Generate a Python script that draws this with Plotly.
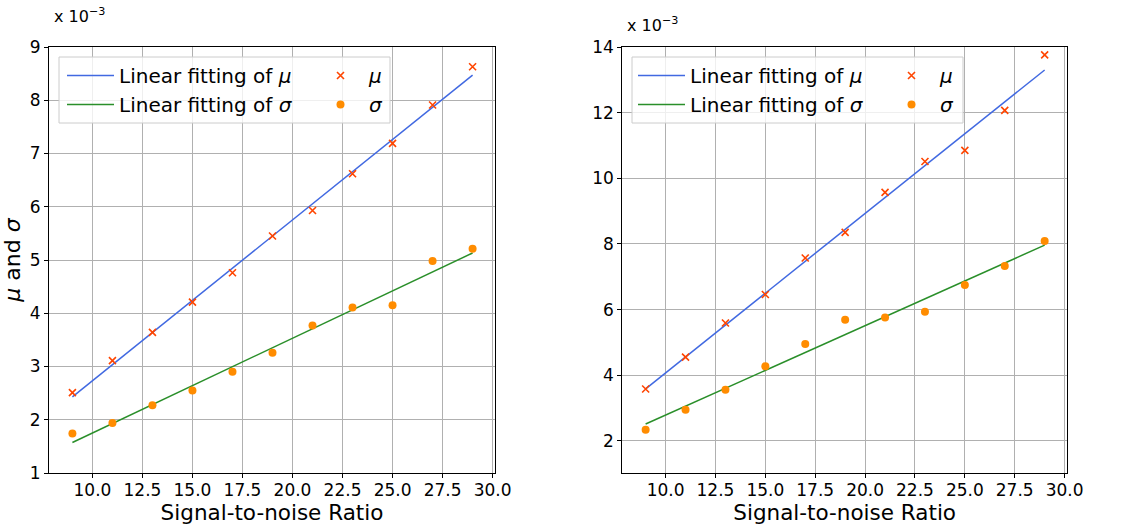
import numpy as np
import plotly.graph_objects as go
from plotly.subplots import make_subplots

# ---- data (values in units of 1e-3) ----
snr = [9, 11, 13, 15, 17, 19, 21, 23, 25, 27, 29]
mu_left = [2.51, 3.11, 3.64, 4.21, 4.76, 5.45, 5.93, 6.62, 7.19, 7.91, 8.63]
sigma_left = [1.74, 1.94, 2.27, 2.55, 2.90, 3.26, 3.77, 4.11, 4.15, 4.98, 5.21]
mu_right = [3.58, 4.55, 5.59, 6.46, 7.57, 8.35, 9.57, 10.51, 10.85, 12.07, 13.76]
sigma_right = [2.34, 2.95, 3.56, 4.27, 4.95, 5.69, 5.76, 5.93, 6.75, 7.33, 8.09]
x_ticks = [10, 12.5, 15, 17.5, 20, 22.5, 25, 27.5, 30]

W, H = 1125, 525
ML, MR, MT, MB = 49, 58, 47, 52
PW, PH = W - ML - MR, H - MT - MB


def px(x):
    return (x - ML) / PW


def py(y):
    return 1 - (y - MT) / PH


FONT = "DejaVu Sans"
BLUE = "#4169E1"
GREEN = "#2a8f2a"
ORR = "#FF4500"
ORG = "#FF8C00"

fig = make_subplots(rows=1, cols=2, horizontal_spacing=0.125)
fig.update_layout(
    xaxis=dict(domain=[0, px(495)]),
    xaxis2=dict(domain=[px(622.3), 1]),
)

panels = [
    (1, mu_left, sigma_left, "legend", "legend2"),
    (2, mu_right, sigma_right, "legend3", "legend4"),
]
xs = np.array(snr, dtype=float)
for col, mu, sg, lg_a, lg_b in panels:
    pm = np.polyfit(xs, mu, 1)
    ps = np.polyfit(xs, sg, 1)
    fig.add_trace(go.Scatter(x=snr, y=np.polyval(pm, xs), mode="lines",
                             line=dict(color=BLUE, width=1.5),
                             name="Linear fitting of <i>μ</i>", legend=lg_a), row=1, col=col)
    fig.add_trace(go.Scatter(x=snr, y=np.polyval(ps, xs), mode="lines",
                             line=dict(color=GREEN, width=1.5),
                             name="Linear fitting of <i>σ</i>", legend=lg_a), row=1, col=col)
    fig.add_trace(go.Scatter(x=snr, y=mu, mode="markers",
                             marker=dict(symbol="x-thin", size=7, color=ORR,
                                         line=dict(color=ORR, width=1.6)),
                             name="<i>μ</i>", legend=lg_b), row=1, col=col)
    fig.add_trace(go.Scatter(x=snr, y=sg, mode="markers",
                             marker=dict(symbol="circle", size=8, color=ORG, line=dict(width=0)),
                             name="<i>σ</i>", legend=lg_b), row=1, col=col)

axis_common = dict(
    showline=True, linecolor="black", linewidth=1.2, mirror=True,
    ticks="outside", ticklen=4, tickwidth=1, tickcolor="black",
    showgrid=True, gridcolor="#b0b0b0", gridwidth=0.8, zeroline=False,
    tickfont=dict(family=FONT, size=17, color="black"), automargin=False,
)
for c in (1, 2):
    fig.update_xaxes(range=[7.83, 30.12], tickvals=x_ticks, tickformat=".1f",
                     ticklabelstandoff=-3,
                     title=dict(text="Signal-to-noise Ratio",
                                font=dict(family=FONT, size=21.5, color="black"), standoff=7),
                     row=1, col=c, **axis_common)
fig.update_yaxes(range=[1, 9], dtick=1, tick0=0,
                 title=dict(text="<i>μ</i> and <i>σ</i>",
                            font=dict(family=FONT, size=22, color="black"), standoff=8),
                 row=1, col=1, **axis_common)
fig.update_yaxes(range=[1.02, 14], dtick=2, tick0=0, row=1, col=2, **axis_common)

leg_font = dict(family=FONT, size=20, color="black")


def legend_cfg(xpix, ypix):
    return dict(x=px(xpix), y=py(ypix), xanchor="left", yanchor="top",
                bgcolor="rgba(0,0,0,0)", borderwidth=0, font=leg_font,
                tracegroupgap=0, itemwidth=47)


fig.update_layout(
    legend=legend_cfg(62, 56),
    legend2=legend_cfg(312, 56),
    legend3=legend_cfg(633, 56),
    legend4=legend_cfg(883, 56),
)

# legend frames
for x0, x1 in ((59, 390), (632, 963)):
    fig.add_shape(type="rect", xref="paper", yref="paper",
                  x0=px(x0), x1=px(x1), y0=py(123), y1=py(57),
                  line=dict(color="#cccccc", width=1),
                  fillcolor="rgba(255,255,255,0.8)", layer="above")

# scale annotations
fig.add_annotation(text="x 10<sup>−3</sup>", xref="paper", yref="paper",
                   x=px(52), y=py(15), xanchor="left", yanchor="middle",
                   showarrow=False, font=dict(family=FONT, size=16, color="black"))
fig.add_annotation(text="x 10<sup>−3</sup>", xref="paper", yref="paper",
                   x=px(625), y=py(25), xanchor="left", yanchor="middle",
                   showarrow=False, font=dict(family=FONT, size=16, color="black"))

fig.update_layout(
    width=W, height=H,
    margin=dict(l=ML, r=MR, t=MT, b=MB, autoexpand=False),
    plot_bgcolor="white", paper_bgcolor="white",
    font=dict(family=FONT, color="black"),
)

fig.write_html("out.html", config={"displayModeBar": False},
               post_script="document.body.style.margin='0';document.body.style.overflow='hidden';")
